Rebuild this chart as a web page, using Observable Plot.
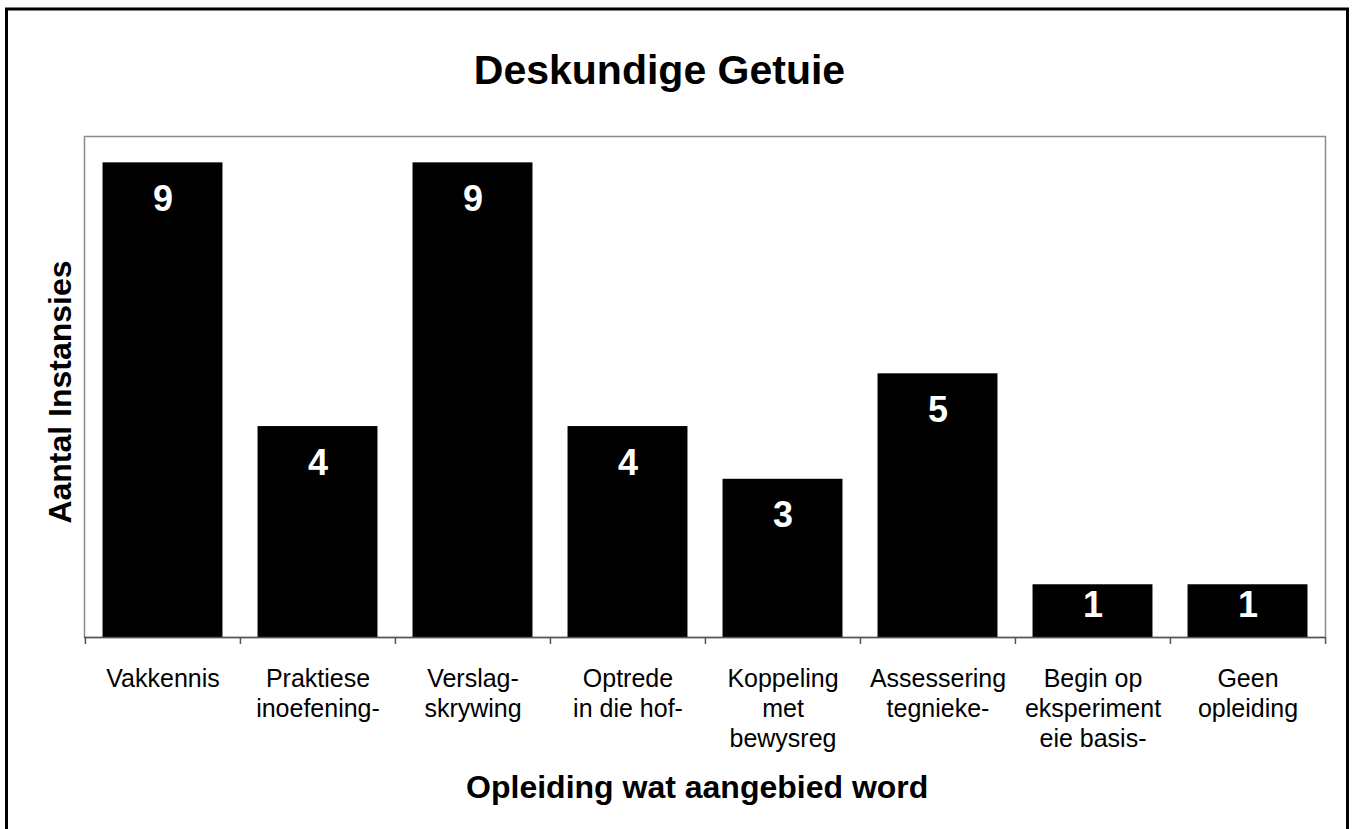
<!DOCTYPE html>
<html>
<head>
<meta charset="utf-8">
<script src="https://cdn.jsdelivr.net/npm/d3@7"></script>
<script src="https://cdn.jsdelivr.net/npm/@observablehq/plot@0.6"></script>
<style>
  html, body { margin: 0; padding: 0; background: #fff; }
  #chart { position: relative; width: 1353px; height: 829px; overflow: hidden; }
</style>
</head>
<body>
<div id="chart"></div>
<script>
const categories = ["Vakkennis", "Praktiese inoefening-", "Verslag-skrywing", "Optrede in die hof-", "Koppeling met bewysreg", "Assessering tegnieke-", "Begin op eksperiment eie basis-", "Geen opleiding"];
const tickLabels = ["Vakkennis", "Praktiese\ninoefening-", "Verslag-\nskrywing", "Optrede\nin die hof-", "Koppeling\nmet\nbewysreg", "Assessering\ntegnieke-", "Begin op\neksperiment\neie basis-", "Geen\nopleiding"];
const values = [9, 4, 9, 4, 3, 5, 1, 1];
const titleText = "Deskundige Getuie";
const xTitle = "Opleiding wat aangebied word";
const yTitle = "Aantal Instansies";

const table = categories.map((c, i) => ({category: c, value: values[i]}));

const W = 1353, H = 829;
const mL = 84, mR = 28, mT = 136, mB = 192;
const step = (W - mL - mR) / categories.length;
const font = "'Liberation Sans', Arial, Helvetica, sans-serif";

const chart = Plot.plot({
  width: W,
  height: H,
  marginLeft: mL,
  marginRight: mR,
  marginTop: mT,
  marginBottom: mB,
  style: {fontFamily: font, background: "#fff", color: "#000"},
  x: {type: "band", domain: categories, padding: 0, axis: null},
  y: {domain: [0, 9.5], axis: null},
  marks: [
    Plot.frame({stroke: "#8c8c8c", strokeWidth: 1.5}),
    Plot.barY(table, {x: "category", y: "value", fill: "#000", insetLeft: step * 0.113, insetRight: step * 0.113}),
    Plot.ruleY([0], {stroke: "#555", strokeWidth: 1.5}),
    Plot.axisX({ticks: categories, tickSize: 7, fill: "none", stroke: "#555", strokeWidth: 1.5, label: null, dx: -step / 2}),
    Plot.axisX({ticks: [categories[categories.length - 1]], tickSize: 7, fill: "none", stroke: "#555", strokeWidth: 1.5, label: null, dx: step / 2}),
    Plot.axisX({
      ticks: categories, tickSize: 0, tickPadding: 28, label: null,
      fontSize: 25, lineHeight: 1.2, fill: "#000",
      tickFormat: (d) => { const t = tickLabels[categories.indexOf(d)]; return t.includes("\n") ? t : t + "\n"; }
    }),
    Plot.text(table, {filter: (d) => d.value > 1, x: "category", y: "value", text: (d) => String(d.value), fill: "#fff", fontSize: 36, fontWeight: "bold", lineAnchor: "bottom", dy: 48}),
    Plot.text(table, {filter: (d) => d.value <= 1, x: "category", y: "value", text: (d) => String(d.value), fill: "#fff", fontSize: 36, fontWeight: "bold", lineAnchor: "bottom", dy: 32}),
    Plot.text([titleText], {frameAnchor: "top", text: (d) => d, fontSize: 41, fontWeight: "bold", fill: "#000", lineAnchor: "bottom", dx: -45.5, dy: -52.7}),
    Plot.text([xTitle], {frameAnchor: "bottom", text: (d) => d, fontSize: 32, fontWeight: "bold", fill: "#000", lineAnchor: "bottom", dx: -7.8, dy: 160}),
    Plot.text([yTitle], {frameAnchor: "left", text: (d) => d, fontSize: 32, fontWeight: "bold", fill: "#000", textAnchor: "middle", lineAnchor: "bottom", rotate: -90, dx: -14, dy: 5})
  ]
});

d3.select(chart).append("rect")
  .attr("x", 6.5).attr("y", 9).attr("width", 1341).attr("height", 900)
  .attr("fill", "none").attr("stroke", "#000").attr("stroke-width", 3);

document.getElementById("chart").appendChild(chart);
</script>
</body>
</html>
